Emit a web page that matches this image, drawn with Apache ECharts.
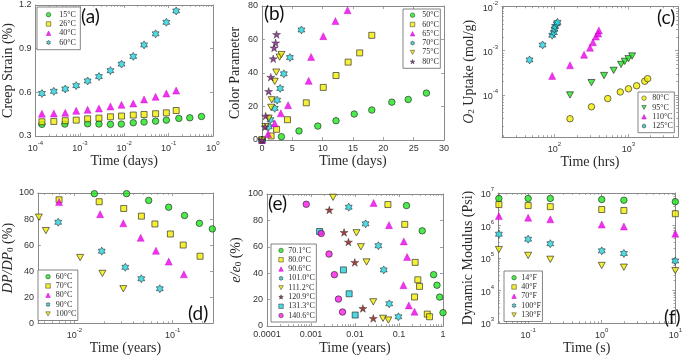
<!DOCTYPE html>
<html>
<head>
<meta charset="utf-8">
<script src="https://cdn.jsdelivr.net/npm/echarts@6/dist/echarts.min.js"></script>
<style>
  html, body { margin: 0; padding: 0; background: #fff; }
  #chart { width: 685px; height: 356px; }
</style>
</head>
<body>
<div id="chart"></div>
<script>
// ---- (a) creep strain vs time (days)
const aTime = [0.00014, 0.00026, 0.00047, 0.00083, 0.0015, 0.0027, 0.0049, 0.0087, 0.016, 0.028, 0.051, 0.089, 0.148];
const aTime15 = [0.00014, 0.00046, 0.0015, 0.0027, 0.0049, 0.0086, 0.016, 0.028, 0.051, 0.089, 0.17, 0.30, 0.55];
const aStrain15 = [0.380, 0.382, 0.384, 0.382, 0.380, 0.382, 0.391, 0.396, 0.402, 0.409, 0.421, 0.425, 0.434];
const aStrain26 = [0.398, 0.400, 0.405, 0.409, 0.418, 0.423, 0.432, 0.437, 0.444, 0.448, 0.453, 0.459, 0.475];
const aStrain40 = [0.453, 0.455, 0.459, 0.473, 0.480, 0.489, 0.503, 0.514, 0.523, 0.551, 0.569, 0.592, 0.612];
const aStrain60 = [0.592, 0.607, 0.623, 0.646, 0.678, 0.708, 0.749, 0.794, 0.847, 0.926, 1.002, 1.081, 1.159];
const aXTicks = [-4, -3, -2, -1, 0];

// ---- (b) color parameter vs time (days)
const b50x = [0, 3.2, 6.1, 9.2, 12.2, 15.2, 18.1, 21.4, 24.1, 27.1];
const b50y = [0, 2.0, 5.4, 8.3, 11.5, 15.5, 17.9, 22.6, 24.2, 28.0];
const b60x = [0, 1.5, 2.4, 4.2, 7.3, 10.1, 12.2, 14.2, 16.1, 18.1];
const b60y = [0, 2.4, 6.4, 12.1, 22.2, 31.4, 38.5, 46.5, 52.0, 62.5];
const b65x = [0, 1.0, 2.1, 3.1, 4.3, 7.7, 8.1, 10.1, 12.1, 14.1];
const b65y = [0, 3.6, 9.9, 15.9, 20.8, 35.3, 49.6, 62.0, 71.0, 77.5];
const b70x = [0, 1.1, 1.4, 2.1, 2.5, 3.0, 3.6, 4.6, 6.5];
const b70y = [0, 7.9, 12.1, 18.9, 23.8, 30.8, 39.5, 49.2, 65.7];
const b75x = [0, 0.55, 1.1, 1.5, 1.6, 2.1, 2.35, 2.9, 3.2];
const b75y = [0, 8.0, 13.0, 19.5, 24.0, 35.0, 40.5, 49.5, 51.0];
const b80x = [0, 0.5, 0.6, 1.1, 1.45, 1.85, 2.0, 2.25, 2.4];
const b80y = [0, 7.8, 14.3, 29.0, 37.5, 48.5, 55.0, 58.0, 63.0];

// ---- (c) O2 uptake vs time (hrs)
const c80x = [162, 316, 525, 776, 1000, 1290, 1660, 1820];
const c80y = [2.9e-5, 5.4e-5, 8.3e-5, 1.17e-4, 1.38e-4, 1.62e-4, 2.04e-4, 2.34e-4];
const c95x = [162, 316, 468, 631, 794, 891, 1000, 1120];
const c95y = [1.0e-4, 1.9e-4, 2.75e-4, 3.6e-4, 4.9e-4, 5.75e-4, 6.6e-4, 7.6e-4];
const c110x = [93, 162, 251, 302, 331, 363, 389, 398];
const c110y = [2.7e-4, 4.7e-4, 8.1e-4, 1.17e-3, 1.55e-3, 2.09e-3, 2.45e-3, 2.88e-3];
const c125x = [46, 69, 93, 98, 100, 102, 107, 110];
const c125y = [6.2e-4, 1.35e-3, 2.24e-3, 2.57e-3, 3.09e-3, 3.55e-3, 4.07e-3, 4.37e-3];
const cXTicks = [2, 3];
const cYTicks = [-4, -3, -2];

// ---- (d) DP/DP0 vs time (years)
const d60x = [0.016, 0.034, 0.057, 0.091, 0.132, 0.187, 0.253];
const d60y = [99.5, 99.5, 94.3, 89.1, 82.7, 76.7, 72.4];
const d70x = [0.0070, 0.0179, 0.0318, 0.0481, 0.066, 0.0948, 0.128, 0.190];
const d70y = [94.8, 93.3, 88.1, 82.2, 76.2, 68.5, 60.0, 51.4];
const d80x = [0.0070, 0.0183, 0.0315, 0.0473, 0.0676, 0.0912, 0.130];
const d80y = [93.0, 83.7, 76.7, 65.6, 55.6, 47.3, 37.5];
const d90x = [0.00686, 0.019, 0.033, 0.048, 0.074];
const d90y = [77.5, 55.3, 42.9, 34.1, 26.4];
const d100x = [0.00436, 0.00514, 0.01146, 0.0193, 0.0315];
const d100y = [81.4, 71.1, 50.4, 38.2, 26.4];
const dXTicks = [-2, -1];

// ---- (e) e/e0 vs time (years)
const e70x = [0.148, 0.337, 0.612, 0.73, 0.84, 1.0];
const e70y = [91.2, 72.1, 38.9, 30.9, 21.9, 10.1];
const e80x = [0.056, 0.135, 0.233, 0.268, 0.293, 0.225, 0.439, 0.495];
const e80y = [92.0, 77.0, 48.2, 35.0, 30.0, 22.0, 9.0, 7.0];
const e90x = [0.0265, 0.0593, 0.1285, 0.153, 0.126, 0.167, 0.225];
const e90y = [93.2, 76.4, 64.1, 52.3, 30.9, 15.6, 10.8];
const e101x = [0.0072, 0.0174, 0.034, 0.045, 0.06, 0.097];
const e101y = [90.0, 77.4, 60.8, 42.5, 16.8, 7.0];
const e111x = [0.00317, 0.0108, 0.0136, 0.0183, 0.026, 0.0433, 0.0573];
const e111y = [97.5, 70.6, 60.0, 48.5, 18.3, 5.8, 4.5];
const e121x = [0.00261, 0.00565, 0.0071, 0.0099, 0.0151, 0.026];
const e121y = [87.9, 70.9, 63.6, 48.2, 13.3, 5.8];
const e131x = [0.00157, 0.00546, 0.00736, 0.0101];
const e131y = [71.6, 42.5, 24.4, 8.3];
const e141x = [0.00078, 0.00171, 0.00257, 0.0034, 0.0042, 0.0052];
const e141y = [92.2, 70.1, 54.5, 38.9, 20.4, 10.6];
const eXTicks = [-4, -3, -2, -1, 0];
const eXLabels = ['0.0001', '0.001', '0.01', '0.1', '1'];

// ---- (f) dynamic modulus vs time (s)
const fTime = [0.04, 0.1, 0.2, 1, 2, 10];
const f14 = [6.8e6, 6.8e6, 6.8e6, 6.3e6, 6.0e6, 5.4e6];
const f40 = [4.4e6, 4.1e6, 3.8e6, 3.1e6, 2.9e6, 2.3e6];
const f70 = [1.95e6, 1.74e6, 1.55e6, 1.07e6, 9.3e5, 5.6e5];
const f100 = [5.4e5, 3.8e5, 2.75e5, 1.66e5, 1.38e5, 8.1e4];
const f130 = [1.82e5, 1.2e5, 9.1e4, 5.9e4, 5.2e4, 4.1e4];
const fXTicks = [-1, 0, 1];
const fYTicks = [3, 4, 5, 6, 7];

const LOG = Math.log10;
const FRAME = '#8a8a8a';
const SERIF = 'Liberation Serif';
const SANS = 'Liberation Sans';
const INK = '#2a2a2a';

function starPath(points, inner) {
  let d = '';
  for (let i = 0; i < 2 * points; i++) {
    const r = i % 2 ? inner : 1, a = -Math.PI / 2 + i * Math.PI / points;
    d += (i ? 'L' : 'M') + (r * Math.cos(a)).toFixed(3) + ' ' + (r * Math.sin(a)).toFixed(3);
  }
  return 'path://' + d + 'Z';
}
const HEX = starPath(6, 0.577);
const PENT = starPath(5, 0.382);
const TRID = 'path://M-1 -0.9L1 -0.9L0 0.9Z';

const EDGE = { borderColor: '#222', borderWidth: 0.8 };
const M = {
  gCirc: { symbol: 'circle', size: 6.5, style: { color: '#1fe61f', ...EDGE } },
  yCirc: { symbol: 'circle', size: 6.5, style: { color: '#f2ec00', ...EDGE } },
  ySq:   { symbol: 'rect', size: 6, style: { color: '#f2ec00', ...EDGE } },
  mTri:  { symbol: 'triangle', size: 7, style: { color: '#ee00ee', borderColor: '#c000c0', borderWidth: 0.5 } },
  cHex:  { symbol: HEX, size: 8, style: { color: '#22d4e0', borderColor: '#222', borderWidth: 0.7 } },
  yTriD: { symbol: TRID, size: 7, style: { color: '#f2ec00', ...EDGE } },
  gTriD: { symbol: TRID, size: 7, style: { color: '#1fe61f', ...EDGE } },
  pStar: { symbol: PENT, size: 8, style: { color: '#7a1c7a', borderColor: '#222', borderWidth: 0.5 } },
  rStar: { symbol: PENT, size: 8, style: { color: '#8a1212', borderColor: '#222', borderWidth: 0.5 } },
  mCirc: { symbol: 'circle', size: 6.5, style: { color: '#ff18ee', ...EDGE } },
  cSq:   { symbol: 'rect', size: 6, style: { color: '#22d0dc', ...EDGE } }
};

const grids = [], xAxes = [], yAxes = [], series = [], legends = [], titles = [];

function minorTicks(lo, hi) {
  const out = [];
  for (let n = Math.floor(lo); n < hi; n++)
    for (let k = 2; k <= 9; k++) {
      const v = n + LOG(k);
      if (v > lo && v < hi) out.push(v);
    }
  return out;
}

const tickFont = { fontFamily: SANS, fontSize: 9, color: '#333' };
const supRich = {
  b: { fontFamily: SANS, fontSize: 9, color: '#333', lineHeight: 13, verticalAlign: 'bottom' },
  e: { fontFamily: SANS, fontSize: 6, color: '#333', lineHeight: 7, verticalAlign: 'top' }
};
const pow10 = v => '{b|10}{e|' + Math.round(v) + '}';
const nameRich = {
  i: { fontFamily: SERIF, fontStyle: 'italic', fontSize: 14, color: INK },
  s: { fontFamily: SERIF, fontSize: 9, color: INK, verticalAlign: 'bottom', lineHeight: 14 }
};

function axisSet(list, gi, dim, o) {
  const pos = dim === 'x' ? ['bottom', 'top'] : ['left', 'right'];
  const base = { type: 'value', gridIndex: gi, min: o.min, max: o.max, splitLine: { show: false }, silent: true };
  if (o.interval) base.interval = o.interval;
  const line = { onZero: false, lineStyle: { color: FRAME, width: 1 } };
  const tick = { show: true, inside: true, length: 3, lineStyle: { color: FRAME, width: 0.8 } };
  const label = { show: true, margin: 4, ...tickFont };
  if (o.ticks) { tick.customValues = o.ticks; label.customValues = o.ticks; }
  if (o.format) label.formatter = o.format;
  if (o.format === pow10) label.rich = supRich;
  const idx = list.length;
  list.push({
    ...base, position: pos[0], axisLine: line, axisTick: tick, axisLabel: label,
    name: o.name, nameLocation: 'middle', nameGap: o.nameGap,
    nameTextStyle: { fontFamily: SERIF, fontSize: 14, color: INK, rich: nameRich }
  });
  list.push({ ...base, position: pos[1], axisLine: line, axisTick: tick, axisLabel: { show: false } });
  if (o.ticks) {
    const minor = { show: true, inside: true, length: 1.8, customValues: minorTicks(o.min, o.max), lineStyle: { color: FRAME, width: 0.8 } };
    pos.forEach(p => list.push({ ...base, position: p, axisLine: { show: false, onZero: false }, axisTick: minor, axisLabel: { show: false } }));
  }
  return idx;
}

function panel(key, g, xo, yo, list, leg, title) {
  const gi = grids.length;
  grids.push(g);
  const xi = axisSet(xAxes, gi, 'x', xo);
  const yi = axisSet(yAxes, gi, 'y', yo);
  list.forEach(([name, xs, ys, mk]) => {
    const m = M[mk];
    series.push({
      type: 'scatter', name: key + '|' + name, xAxisIndex: xi, yAxisIndex: yi,
      symbol: m.symbol, symbolSize: m.size, symbolKeepAspect: true,
      itemStyle: m.style, silent: true,
      data: xs.map((x, i) => [xo.log ? LOG(x) : x, yo.log ? LOG(ys[i]) : ys[i]])
    });
  });
  legends.push({
    data: list.map(([name, , , mk]) => ({ name: key + '|' + name, icon: M[mk].symbol, itemStyle: { ...M[mk].style, borderWidth: 0.6 } })),
    orient: 'vertical', left: leg.left, top: leg.top,
    padding: leg.pad, itemGap: 0, itemWidth: 4.5, itemHeight: 4.5, selectedMode: false,
    backgroundColor: '#fff', borderColor: '#666', borderWidth: 0.8,
    formatter: n => n.split('|')[1],
    textStyle: { fontFamily: SERIF, fontSize: 8, color: INK, lineHeight: 9.3, padding: [0, 0, 0, leg.textPad] }
  });
  titles.push({
    text: title.text, left: title.left, top: title.top, padding: 0,
    textStyle: { fontFamily: 'Lato', fontSize: 19, fontWeight: 'normal', color: '#111' }
  });
}

panel('a', { left: 35, top: 5, width: 178, height: 131 },
  { min: -4, max: 0, ticks: aXTicks, format: pow10, log: true, name: 'Time (days)', nameGap: 17 },
  { min: 0.3, max: 1.2, interval: 0.3, name: 'Creep Strain (%)', nameGap: 20 },
  [['15°C', aTime15, aStrain15, 'gCirc'], ['26°C', aTime, aStrain26, 'ySq'],
   ['40°C', aTime, aStrain40, 'mTri'], ['60°C', aTime, aStrain60, 'cHex']],
  { left: 37, top: 7, pad: [3, 4.5, 2.5, 9], textPad: 3.5 }, { text: '(a)', left: 81, top: 7 });

panel('b', { left: 262, top: 6, width: 182, height: 134 },
  { min: 0, max: 30, interval: 5, name: 'Time (days)', nameGap: 13 },
  { min: 0, max: 80, interval: 20, name: 'Color Parameter', nameGap: 20 },
  [['50°C', b50x, b50y, 'gCirc'], ['60°C', b60x, b60y, 'ySq'], ['65°C', b65x, b65y, 'mTri'],
   ['70°C', b70x, b70y, 'cHex'], ['75°C', b75x, b75y, 'yTriD'], ['80°C', b80x, b80y, 'pStar']],
  { left: 403, top: 9, pad: [1.5, 1.5, 2, 7], textPad: 2.5 }, { text: '(b)', left: 264, top: 4 });

panel('c', { left: 502, top: 5, width: 176, height: 132 },
  { min: 1.29, max: 3.67, ticks: cXTicks, format: pow10, log: true, name: 'Time (hrs)', nameGap: 16 },
  { min: -4.95, max: -2, ticks: cYTicks, format: pow10, log: true, name: '{i|O}{s|2} Uptake (mol/g)', nameGap: 26 },
  [['80°C', c80x, c80y, 'yCirc'], ['95°C', c95x, c95y, 'gTriD'],
   ['110°C', c110x, c110y, 'mTri'], ['125°C', c125x, c125y, 'cHex']],
  { left: 638, top: 92, pad: [1.5, 1.5, 2, 3.5], textPad: 1 }, { text: '(c)', left: 657, top: 8 });

panel('d', { left: 32, top: 193, width: 181, height: 132 },
  { min: -2.37, max: -0.59, ticks: dXTicks, format: pow10, log: true, name: 'Time (years)', nameGap: 16 },
  { min: 0, max: 100, interval: 20, name: '{i|DP/DP}{s|0} (%)', nameGap: 17 },
  [['60°C', d60x, d60y, 'gCirc'], ['70°C', d70x, d70y, 'ySq'], ['80°C', d80x, d80y, 'mTri'],
   ['90°C', d90x, d90y, 'cHex'], ['100°C', d100x, d100y, 'yTriD']],
  { left: 38, top: 270, pad: [2, 1.5, 2, 7.5], textPad: 0.5 }, { text: '(d)', left: 188, top: 304 });

panel('e', { left: 267, top: 194, width: 176, height: 132 },
  { min: -4, max: 0, ticks: eXTicks, format: v => eXLabels[Math.round(v) + 4], log: true, name: 'Time (years)', nameGap: 15 },
  { min: 0, max: 100, interval: 20, name: '{i|e/e}{s|0} (%)', nameGap: 24 },
  [['70.1°C', e70x, e70y, 'gCirc'], ['80.0°C', e80x, e80y, 'ySq'], ['90.6°C', e90x, e90y, 'mTri'],
   ['101.0°C', e101x, e101y, 'cHex'], ['111.2°C', e111x, e111y, 'yTriD'], ['120.9°C', e121x, e121y, 'rStar'],
   ['131.3°C', e131x, e131y, 'cSq'], ['140.6°C', e141x, e141y, 'mCirc']],
  { left: 271, top: 244, pad: [1.8, 1.5, 1.8, 7.5], textPad: 0 }, { text: '(e)', left: 268, top: 194 });

panel('f', { left: 498, top: 193, width: 182, height: 131 },
  { min: -1.41, max: 1, ticks: fXTicks, format: pow10, log: true, name: 'Time (s)', nameGap: 18 },
  { min: 3, max: 7, ticks: fYTicks, format: pow10, log: true, name: 'Dynamic Modulus (Psi)', nameGap: 23 },
  [['14°F', fTime, f14, 'gCirc'], ['40°F', fTime, f40, 'ySq'], ['70°F', fTime, f70, 'mTri'],
   ['100°F', fTime, f100, 'cHex'], ['130°F', fTime, f130, 'yTriD']],
  { left: 504, top: 271, pad: [2, 1.5, 2, 7.5], textPad: 0 }, { text: '(f)', left: 664, top: 308 });

const chart = echarts.init(document.getElementById('chart'), null, { renderer: 'canvas' });
chart.setOption({
  animation: false,
  backgroundColor: '#fff',
  title: titles,
  grid: grids,
  xAxis: xAxes,
  yAxis: yAxes,
  legend: legends,
  series: series
});
</script>
</body>
</html>
